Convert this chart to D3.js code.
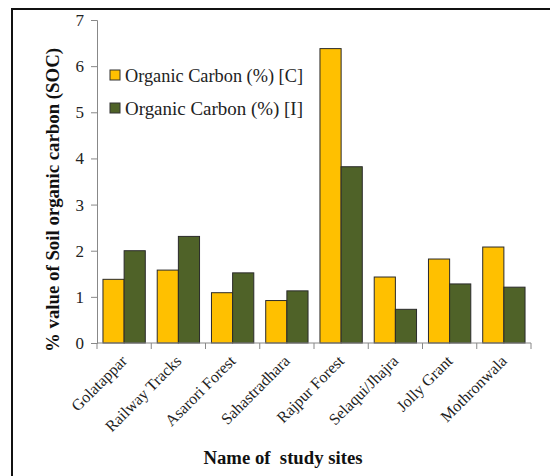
<!DOCTYPE html>
<html>
<head>
<meta charset="utf-8">
<script src="https://cdn.jsdelivr.net/npm/d3@7"></script>
<style>
  body { margin: 0; background: #fff; }
  text { font-family: "Liberation Serif", "DejaVu Serif", serif; }
</style>
</head>
<body>
<div id="chart"></div>
<script>
// sites and the two series
const sites = ["Golatappar", "Railway Tracks", "Asarori Forest", "Sahastradhara",
               "Rajpur Forest", "Selaqui/Jhajra", "Jolly Grant", "Mothronwala"]
const seriesNames = ["Organic Carbon (%) [C]", "Organic Carbon (%) [I]"]
const valuesC = [1.38, 1.58, 1.09, 0.92, 6.38, 1.43, 1.82, 2.08]
const valuesI = [2.00, 2.31, 1.52, 1.13, 3.82, 0.73, 1.28, 1.21]
const yTicks = [0, 1, 2, 3, 4, 5, 6, 7]

const W = 550, H = 476
const margin = {top: 20, right: 19, bottom: 133, left: 97},
    width = W - margin.left - margin.right,
    height = H - margin.top - margin.bottom;

const svg = d3.select("#chart")
  .append("svg")
    .attr("width", W)
    .attr("height", H)

// outer frame (only top and left edges visible in the picture)
svg.append("rect")
  .attr("x", 12).attr("y", 9)
  .attr("width", W + 20).attr("height", H + 20)
  .attr("fill", "none")
  .attr("stroke", "#111")
  .attr("stroke-width", 2)

const g = svg.append("g")
  .attr("transform", `translate(${margin.left},${margin.top})`);

const data = sites.map((s, i) => ({site: s, values: [valuesC[i], valuesI[i]]}))

const x = d3.scaleBand()
  .domain(sites)
  .range([0, width])
  .paddingInner(0.22)
  .paddingOuter(0.11)

const xSub = d3.scaleBand()
  .domain(seriesNames)
  .range([0, x.bandwidth()])

const y = d3.scaleLinear()
  .domain([0, 7])
  .range([height, 0])

const color = d3.scaleOrdinal()
  .domain(seriesNames)
  .range(["#FFC000", "#4F6228"])

// bars
g.append("g")
  .selectAll("g")
  .data(data)
  .join("g")
    .attr("transform", d => `translate(${x(d.site)},0)`)
  .selectAll("rect")
  .data(d => seriesNames.map((k, j) => ({key: k, value: d.values[j]})))
  .join("rect")
    .attr("x", d => xSub(d.key))
    .attr("y", d => y(d.value))
    .attr("width", xSub.bandwidth())
    .attr("height", d => height - y(d.value))
    .attr("fill", d => color(d.key))
    .attr("stroke", "#2a2a2a")
    .attr("stroke-width", 1)

// y axis
const yAxis = g.append("g")
  .call(d3.axisLeft(y).tickValues(yTicks).tickSize(6).tickPadding(7).tickFormat(d3.format("d")))
yAxis.select(".domain").attr("stroke", "#888")
yAxis.selectAll(".tick line").attr("stroke", "#888")
yAxis.selectAll("text")
  .style("font-family", "Liberation Serif, serif")
  .style("font-size", "17px")
  .attr("fill", "#222")

// x axis: ticks at group boundaries
const step = x.step()
const xAxis = g.append("g")
  .attr("transform", `translate(0,${height})`)
xAxis.append("line")
  .attr("x1", 0).attr("x2", width)
  .attr("stroke", "#888")
xAxis.selectAll("line.tk")
  .data(d3.range(sites.length + 1))
  .join("line")
    .attr("class", "tk")
    .attr("x1", i => i * step).attr("x2", i => i * step)
    .attr("y1", 0).attr("y2", 6)
    .attr("stroke", "#888")
xAxis.selectAll("text")
  .data(sites)
  .join("text")
    .attr("transform", d => `translate(${x(d) + x.bandwidth() / 2 + 4},${19}) rotate(-45)`)
    .attr("text-anchor", "end")
    .style("font-size", "16px")
    .attr("fill", "#222")
    .text(d => d)

// axis titles
g.append("text")
  .attr("transform", "rotate(-90)")
  .attr("x", -180)
  .attr("y", -38)
  .attr("text-anchor", "middle")
  .attr("textLength", 304)
  .attr("lengthAdjust", "spacingAndGlyphs")
  .style("font-size", "18px")
  .style("font-weight", "bold")
  .attr("fill", "#111")
  .text("% value of Soil organic carbon (SOC)")

svg.append("text")
  .attr("x", 283)
  .attr("y", 464)
  .attr("text-anchor", "middle")
  .attr("textLength", 159)
  .attr("lengthAdjust", "spacingAndGlyphs")
  .style("font-size", "18px")
  .style("font-weight", "bold")
  .attr("fill", "#111")
  .attr("xml:space", "preserve")
  .text("Name of  study sites")

// legend
const legend = svg.append("g")
  .selectAll("g")
  .data(seriesNames)
  .join("g")
    .attr("transform", (d, i) => `translate(110,${70 + i * 33})`)
legend.append("rect")
  .attr("width", 10).attr("height", 10)
  .attr("fill", d => color(d))
  .attr("stroke", "#333")
legend.append("text")
  .attr("x", 15)
  .attr("y", 12)
  .attr("textLength", 178)
  .attr("lengthAdjust", "spacingAndGlyphs")
  .style("font-size", "18px")
  .attr("fill", "#222")
  .text(d => d)
</script>
</body>
</html>
